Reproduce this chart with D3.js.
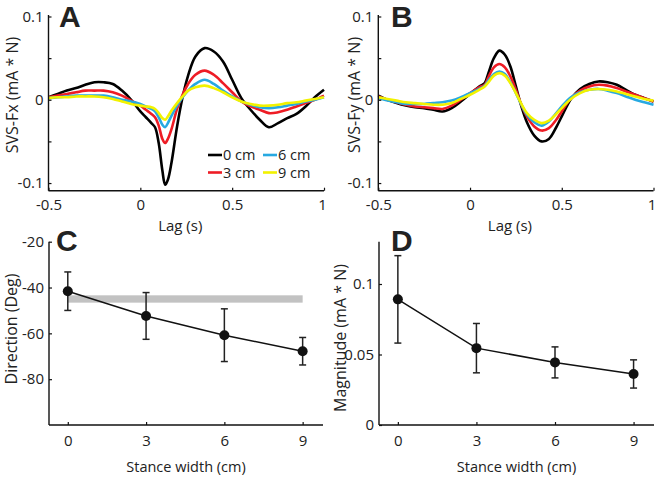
<!DOCTYPE html>
<html><head><meta charset="utf-8">
<script src="https://cdn.jsdelivr.net/npm/d3@7"></script>
<style>body{margin:0;background:#fff}svg{display:block}text{font-family:"Open Sans",sans-serif;fill:#222}</style>
</head><body><svg id="c" width="656" height="480"></svg>
<script>
// ---------- data ----------
const lagA = [-0.5,-0.45,-0.4,-0.35,-0.3,-0.25,-0.2,-0.15,-0.1,-0.05,0,0.03,0.06,0.08,0.1,0.12,0.135,0.15,0.17,0.2,0.23,0.26,0.3,0.35,0.4,0.45,0.5,0.55,0.6,0.65,0.7,0.75,0.8,0.85,0.9,0.95,1.0];
const fx0 = [0.003,0.007,0.011,0.014,0.018,0.021,0.021,0.019,0.011,0.0,-0.014,-0.021,-0.028,-0.033,-0.052,-0.085,-0.102,-0.096,-0.075,-0.032,0.003,0.029,0.052,0.062,0.058,0.046,0.024,0.002,-0.012,-0.024,-0.033,-0.028,-0.022,-0.017,-0.008,0.003,0.012];
const fx3 = [0.003,0.005,0.007,0.009,0.011,0.011,0.011,0.009,0.005,-0.001,-0.007,-0.012,-0.017,-0.021,-0.031,-0.047,-0.052,-0.047,-0.035,-0.011,0.006,0.019,0.030,0.035,0.030,0.020,0.009,-0.002,-0.008,-0.012,-0.016,-0.015,-0.012,-0.008,-0.004,0.0,0.005];
const fx6 = [0.002,0.003,0.004,0.005,0.005,0.005,0.005,0.003,0.0,-0.002,-0.005,-0.008,-0.011,-0.014,-0.021,-0.030,-0.033,-0.028,-0.019,-0.007,0.003,0.011,0.019,0.024,0.019,0.011,0.004,-0.002,-0.006,-0.009,-0.010,-0.009,-0.007,-0.005,-0.002,0.0,0.003];
const fx9 = [0.002,0.003,0.003,0.004,0.004,0.004,0.003,0.001,-0.002,-0.005,-0.007,-0.008,-0.009,-0.011,-0.016,-0.022,-0.024,-0.020,-0.013,-0.004,0.004,0.011,0.015,0.017,0.014,0.009,0.003,-0.002,-0.005,-0.007,-0.007,-0.006,-0.004,-0.003,-0.001,0.001,0.003];

const lagB = [-0.5,-0.45,-0.4,-0.35,-0.3,-0.25,-0.2,-0.15,-0.1,-0.05,0,0.05,0.08,0.1,0.13,0.16,0.19,0.22,0.25,0.28,0.31,0.35,0.39,0.43,0.47,0.5,0.55,0.6,0.65,0.7,0.75,0.8,0.85,0.9,0.95,1.0];
const fy0 = [0.005,0.0,-0.004,-0.007,-0.009,-0.010,-0.012,-0.014,-0.010,-0.002,0.007,0.016,0.020,0.032,0.050,0.059,0.054,0.040,0.016,-0.008,-0.027,-0.043,-0.050,-0.047,-0.033,-0.020,0.001,0.013,0.019,0.022,0.021,0.018,0.012,0.006,0.002,-0.002];
const fy3 = [0.004,0.0,-0.003,-0.006,-0.008,-0.009,-0.010,-0.011,-0.007,0.0,0.008,0.015,0.018,0.027,0.039,0.043,0.039,0.028,0.012,-0.006,-0.020,-0.032,-0.037,-0.034,-0.024,-0.014,0.002,0.011,0.016,0.018,0.017,0.014,0.010,0.006,0.002,-0.002];
const fy6 = [0.002,-0.001,-0.003,-0.005,-0.005,-0.005,-0.004,-0.003,-0.001,0.003,0.008,0.013,0.017,0.023,0.031,0.034,0.031,0.021,0.008,-0.006,-0.018,-0.027,-0.031,-0.026,-0.016,-0.008,0.003,0.009,0.012,0.013,0.011,0.008,0.004,0.0,-0.003,-0.006];
const fy9 = [0.003,0.001,-0.001,-0.003,-0.004,-0.005,-0.006,-0.006,-0.004,0.001,0.006,0.012,0.016,0.021,0.029,0.032,0.029,0.020,0.008,-0.005,-0.016,-0.024,-0.028,-0.025,-0.017,-0.010,0.001,0.008,0.012,0.013,0.012,0.010,0.007,0.004,0.001,-0.001];

const seriesNames = ["0 cm","3 cm","6 cm","9 cm"];
const seriesColors = ["#000000","#ee1c25","#27a9e1","#f2f200"];

const lagTicks = [-0.5,0,0.5,1];
const lagTickLabels = ["-0.5","0","0.5","1"];
const svsTicks = [-0.1,-0.05,0,0.05,0.1];
const svsTickLabels = ["-0.1","","0","","0.1"];

const stance = [0,3,6,9];
const direction = [-41.6,-52.4,-60.8,-67.8];
const directionErr = [8.4,10.2,11.5,6.0];
const magnitude = [0.0891,0.0545,0.0444,0.0362];
const magnitudeErr = [0.031,0.0175,0.011,0.010];
const bandLevel = -45;
const bandHalf = 1.6;
const stanceTickLabels = ["0","3","6","9"];
const dirTicks = [-20,-40,-60,-80];
const dirTickLabels = ["-20","-40","-60","-80"];
const magTicks = [0,0.05,0.1];
const magTickLabels = ["0","0.05","0.1"];

// ---------- drawing ----------
const svg = d3.select("#c");
const FS = 15;
const YL = 16;

function styleAxis(g){
  g.select(".domain").attr("stroke","#111").attr("stroke-width",1.4);
  g.selectAll(".tick line").attr("stroke","#111").attr("stroke-width",1.2);
  g.selectAll(".tick text").style("font-size",FS+"px").attr("fill","#222");
}

function linePanel(x0,x1,lag,series,yLabel,letter,letterX,yLabCx,yLabCy){
  const x = d3.scaleLinear().domain([-0.5,1]).range([x0,x1]);
  const y = d3.scaleLinear().domain([-0.1092,0.1018]).range([190.7,15]);
  const g = svg.append("g");
  const line = d3.line().x((d,i)=>x(lag[i])).y(d=>y(d)).curve(d3.curveCatmullRom.alpha(0.5));
  series.forEach((s,k)=>{
    g.append("path").attr("d",line(s)).attr("fill","none")
     .attr("stroke",seriesColors[k]).attr("stroke-width",2.6).attr("stroke-linejoin","round");
  });
  const ax = g.append("g").attr("transform",`translate(0,190.7)`)
    .call(d3.axisBottom(x).tickValues(lagTicks).tickSize(-3).tickPadding(9)
      .tickFormat((d,i)=>lagTickLabels[i]));
  styleAxis(ax);
  ax.selectAll(".tick text").filter(d=>d===1).attr("dx","-2");
  const ay = g.append("g").attr("transform",`translate(${x0},0)`)
    .call(d3.axisLeft(y).tickValues(svsTicks).tickSize(-3).tickPadding(5)
      .tickFormat((d,i)=>svsTickLabels[i]));
  styleAxis(ay);
  ax.select(".domain").attr("d",`M${x0},0H${x1}`);
  ay.select(".domain").attr("d",`M0,190.7V15`);
  g.append("text").attr("x",(x0+x1)/2-6).attr("y",231).attr("text-anchor","middle")
    .style("font-size","15px").text("Lag (s)");
  g.append("text").attr("transform",`translate(${yLabCx},${yLabCy}) rotate(-90)`)
    .attr("text-anchor","middle").attr("dy","0.35em").style("font-size",YL+"px").text(yLabel);
  g.append("text").attr("x",letterX).attr("y",27).style("font-family","Arial, 'Liberation Sans', sans-serif")
    .style("font-weight","bold").style("font-size","30px").attr("fill","#000").text(letter);
  return {x,y,g};
}

linePanel(48.5,324,lagA,[fx0,fx3,fx6,fx9],"SVS-Fx (mA * N)","A",59,12,95);
linePanel(378.3,653.5,lagB,[fy0,fy3,fy6,fy9],"SVS-Fy (mA * N)","B",391,354,95);

// legend in A
const legPos = [[208,155],[208,172.5],[263,155],[263,172.5]];
seriesNames.forEach((n,k)=>{
  const [lx,ly] = legPos[k];
  svg.append("line").attr("x1",lx).attr("x2",lx+14).attr("y1",ly).attr("y2",ly)
    .attr("stroke",seriesColors[k]).attr("stroke-width",2.6);
  svg.append("text").attr("x",lx+15).attr("y",ly).attr("dy","0.35em")
    .style("font-size","14.5px").text(n);
});

function pointPanel(x0,x1,yDom,vals,errs,ticks,tickLabels,yLabel,letter,letterX,yLabCx,yLabCy,band){
  const x = d3.scaleLinear().domain([-0.72,9.78]).range([x0,x1]);
  const y = d3.scaleLinear().domain(yDom).range([425,241.7]);
  const g = svg.append("g");
  if(band){
    g.append("rect").attr("x",x(0)).attr("width",x(9)-x(0))
      .attr("y",y(bandLevel+bandHalf)).attr("height",y(bandLevel-bandHalf)-y(bandLevel+bandHalf))
      .attr("fill","#c2c2c2");
  }
  const ax = g.append("g").attr("transform","translate(0,425)")
    .call(d3.axisBottom(x).tickValues(stance).tickSize(-3).tickPadding(10)
      .tickFormat((d,i)=>stanceTickLabels[i]));
  styleAxis(ax);
  ax.select(".domain").attr("d",`M${x0},0H${x1}`);
  const ay = g.append("g").attr("transform",`translate(${x0},0)`)
    .call(d3.axisLeft(y).tickValues(ticks).tickSize(-3).tickPadding(5)
      .tickFormat((d,i)=>tickLabels[i]));
  styleAxis(ay);
  ay.select(".domain").attr("d",`M0,425V241.7`);
  g.append("path").attr("d",d3.line().x((d,i)=>x(stance[i])).y(d=>y(d))(vals))
    .attr("fill","none").attr("stroke","#111").attr("stroke-width",1.5);
  vals.forEach((v,i)=>{
    const cx = x(stance[i]);
    g.append("line").attr("x1",cx).attr("x2",cx).attr("y1",y(v+errs[i])).attr("y2",y(v-errs[i]))
      .attr("stroke","#222").attr("stroke-width",1.5);
    [v+errs[i],v-errs[i]].forEach(e=>{
      g.append("line").attr("x1",cx-3.5).attr("x2",cx+3.5).attr("y1",y(e)).attr("y2",y(e))
        .attr("stroke","#222").attr("stroke-width",1.5);
    });
    g.append("circle").attr("cx",cx).attr("cy",y(v)).attr("r",5).attr("fill","#111");
  });
  g.append("text").attr("x",(x0+x1)/2).attr("y",472).attr("text-anchor","middle")
    .style("font-size","14.5px").text("Stance width (cm)");
  g.append("text").attr("transform",`translate(${yLabCx},${yLabCy}) rotate(-90)`)
    .attr("text-anchor","middle").attr("dy","0.35em").style("font-size",YL+"px").text(yLabel);
  g.append("text").attr("x",letterX).attr("y",251).style("font-family","Arial, 'Liberation Sans', sans-serif")
    .style("font-weight","bold").style("font-size","30px").attr("fill","#000").text(letter);
}

pointPanel(49,323,[-100,-20],direction,directionErr,dirTicks,dirTickLabels,"Direction (Deg)","C",56,11,329,true);
pointPanel(379,654,[0,0.13],magnitude,magnitudeErr,magTicks,magTickLabels,"Magnitude (mA * N)","D",391,340,338,false);
</script></body></html>
